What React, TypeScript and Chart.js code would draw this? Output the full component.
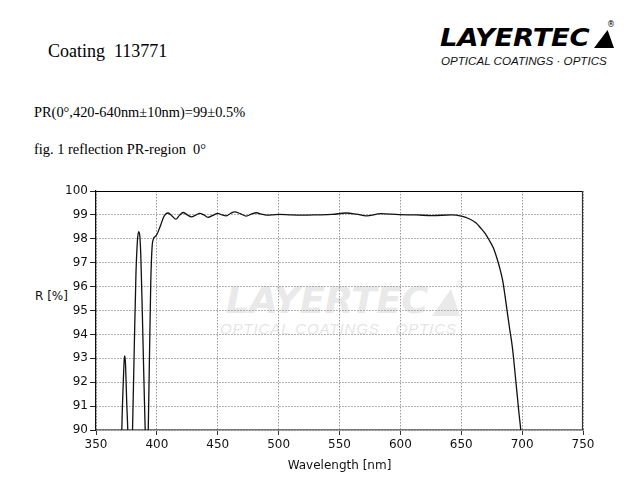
import React, { useEffect, useRef } from "react";
import { Chart, registerables } from "chart.js";

Chart.register(...registerables);

// ---- data ----
const wavelengthNm = [
  370, 371.2, 372.4, 373.2, 373.7, 374.3, 375.2, 376.1, 377.0, 378.5,
  380.0, 381.5, 382.8, 384.0, 385.0, 385.8, 386.8, 388.0, 389.3, 390.4,
  391.6, 392.9, 394.0, 395.0, 396.0, 397.2, 398.8, 400.2, 401.8, 403.3,
  405.5, 407.5, 409.3, 412.5, 415.6, 418.5, 421.6, 425.0, 428.4, 431.8,
  435.2, 438.6, 442.0, 446.0, 450.0, 453.5, 457.0, 460.5, 464.0, 468.5,
  473.5, 477.5, 481.7, 486.0, 490.0, 500.0, 510.0, 520.0, 531.0, 544.0,
  555.5, 564.0, 572.0, 584.0, 599.0, 613.0, 626.0, 642.0, 650.0, 656.0,
  662.0, 666.0, 670.0, 673.0, 676.5, 679.8, 682.0, 684.0, 686.0, 688.0,
  690.0, 692.0, 694.8, 697.5, 698.9, 700.5,
];
const reflectancePct = [
  86, 90, 92, 92.95, 93.1, 92.7, 91.2, 90, 88, 87,
  90, 93.6, 96.5, 97.9, 98.3, 98.2, 97.3, 95.0, 92.2, 90,
  87.5, 90, 93.3, 96.2, 97.6, 98.0, 98.1, 98.2, 98.4, 98.6,
  98.9, 99.05, 99.08, 98.95, 98.82, 98.98, 99.1, 99.0, 98.92, 98.99,
  99.06, 99.0, 98.9, 98.98, 99.06, 99.0, 98.96, 99.06, 99.13, 99.05,
  98.95, 99.03, 99.09, 99.03, 98.99, 99.02, 99.0, 98.99, 99.0, 99.02,
  99.08, 99.03, 98.96, 99.05, 99.01, 99.0, 98.97, 99.0, 98.95, 98.85,
  98.67, 98.45, 98.2, 97.94, 97.6, 97.1, 96.7, 96.26, 95.6, 94.86,
  94.15, 93.46, 92.06, 90.66, 90, 89,
];
const xTickValues = [350, 400, 450, 500, 550, 600, 650, 700, 750];
const yTickValues = [90, 91, 92, 93, 94, 95, 96, 97, 98, 99, 100];

const headerTitle = "Coating  113771";
const specLine = "PR(0°,420-640nm±10nm)=99±0.5%";
const figLine = "fig. 1 reflection PR-region  0°";
const xAxisTitle = "Wavelength [nm]";
const yAxisTitle = "R [%]";
const brandName = "LAYERTEC";
const brandSub = "OPTICAL COATINGS · OPTICS";

const framePlugin = {
  id: "frame",
  afterDraw(chart: any) {
    const { ctx, chartArea } = chart;
    const { left, right, top, bottom } = chartArea;
    ctx.save();
    ctx.lineWidth = 1.2;
    ctx.strokeStyle = "#000";
    ctx.beginPath();
    ctx.moveTo(left, top + 0.5);
    ctx.lineTo(right, top + 0.5);
    ctx.stroke();
    ctx.strokeStyle = "#333";
    ctx.beginPath();
    ctx.moveTo(right - 0.5, top);
    ctx.lineTo(right - 0.5, bottom);
    ctx.stroke();
    ctx.restore();
  },
};

function Logo(p: any) {
  const capTopOffset = p.size * 0.2; // approx gap between line box top and cap top (lineHeight 1)
  return (
    <>
      <div
        style={{
          position: "absolute",
          left: p.x,
          top: p.capTop - capTopOffset,
          fontFamily: "'DejaVu Sans', sans-serif",
          fontWeight: 900,
          fontStyle: "italic",
          fontSize: p.size,
          lineHeight: 1,
          color: p.color,
          letterSpacing: -0.3,
          whiteSpace: "nowrap",
          transform: `scaleX(${p.sx})`,
          transformOrigin: "left top",
        }}
      >
        {brandName}
      </div>
      <div
        style={{
          position: "absolute",
          left: p.triX,
          top: p.capTop,
          width: p.triW,
          height: p.capH,
          background: p.color,
          clipPath: "polygon(0% 100%, 68% 0%, 100% 100%)",
        }}
      />
      <div
        style={{
          position: "absolute",
          left: p.regX,
          top: p.regY,
          fontFamily: "'DejaVu Sans', sans-serif",
          fontSize: p.regSize,
          lineHeight: 1,
          color: p.color,
        }}
      >
        ®
      </div>
      <div
        style={{
          position: "absolute",
          left: p.subX,
          top: p.subY,
          fontFamily: "'Liberation Sans', sans-serif",
          fontStyle: "italic",
          fontSize: p.subSize,
          lineHeight: 1,
          color: p.subColor,
          letterSpacing: p.subSpacing,
          whiteSpace: "nowrap",
        }}
      >
        {brandSub}
      </div>
    </>
  );
}

export default function App() {
  const canvasRef = useRef<HTMLCanvasElement | null>(null);

  useEffect(() => {
    const canvas = canvasRef.current;
    if (!canvas) return;
    const points = wavelengthNm.map((x, i) => ({ x, y: reflectancePct[i] }));
    const chart = new Chart(canvas, {
      type: "line",
      data: {
        datasets: [
          {
            data: points,
            borderColor: "#111",
            borderWidth: 1.3,
            pointRadius: 0,
            fill: false,
            cubicInterpolationMode: "monotone",
          },
        ],
      },
      options: {
        responsive: false,
        animation: false,
        layout: { padding: { top: 16, right: 54, left: 0, bottom: 0 } },
        plugins: { legend: { display: false }, tooltip: { enabled: false } },
        scales: {
          x: {
            type: "linear",
            min: 350,
            max: 750,
            afterBuildTicks: (scale: any) => {
              scale.ticks = xTickValues.map((v) => ({ value: v }));
            },
            afterFit: (scale: any) => {
              scale.height = 70;
            },
            ticks: {
              autoSkip: false,
              maxRotation: 0,
              padding: 3,
              color: "#111",
              font: { family: "'DejaVu Sans', sans-serif", size: 12 },
              callback: (v: any) => String(v),
            },
            grid: {
              color: "#9a9a9a",
              lineWidth: 1,
              tickLength: 5,
              tickColor: "#333",
              tickBorderDash: [],
            },
            border: { display: true, color: "#777", width: 1.6, dash: [1.5, 1.5] },
            title: {
              display: true,
              text: xAxisTitle,
              color: "#111",
              font: { family: "'DejaVu Sans', sans-serif", size: 12 },
              padding: { top: 0, bottom: 27 },
            },
          },
          y: {
            type: "linear",
            min: 90,
            max: 100,
            afterBuildTicks: (scale: any) => {
              scale.ticks = yTickValues.map((v) => ({ value: v }));
            },
            afterFit: (scale: any) => {
              scale.width = 96;
            },
            ticks: {
              padding: 2,
              color: "#111",
              font: { family: "'DejaVu Sans', sans-serif", size: 12 },
              callback: (v: any) => String(v),
            },
            grid: {
              color: "#9a9a9a",
              lineWidth: 1,
              tickLength: 6,
              tickColor: "#222",
              tickBorderDash: [],
            },
            border: { display: true, color: "#111", width: 1.2, dash: [1.5, 1.5] },
          },
        },
      },
      plugins: [framePlugin],
    } as any);
    return () => chart.destroy();
  }, []);

  const serif = "'Liberation Serif', 'Times New Roman', serif";

  return (
    <div
      style={{
        position: "absolute",
        left: 0,
        top: 0,
        width: 637,
        height: 500,
        background: "#fff",
        overflow: "hidden",
      }}
    >
      <div
        style={{
          position: "absolute",
          left: 48,
          top: 42,
          fontFamily: serif,
          fontSize: 18,
          lineHeight: 1,
          whiteSpace: "pre",
          color: "#000",
        }}
      >
        {headerTitle}
      </div>
      <div
        style={{
          position: "absolute",
          left: 34,
          top: 105,
          fontFamily: serif,
          fontSize: 14.4,
          lineHeight: 1,
          whiteSpace: "pre",
          color: "#000",
        }}
      >
        {specLine}
      </div>
      <div
        style={{
          position: "absolute",
          left: 34,
          top: 142,
          fontFamily: serif,
          fontSize: 14.4,
          lineHeight: 1,
          whiteSpace: "pre",
          color: "#000",
        }}
      >
        {figLine}
      </div>

      {/* header logo */}
      <Logo
        x={440}
        capTop={30}
        capH={18}
        size={25}
        sx={1.1}
        color="#000"
        triX={594}
        triW={20}
        regX={607}
        regY={21}
        regSize={8}
        subX={441}
        subY={55}
        subSize={11.6}
        subSpacing={0}
        subColor="#111"
      />

      {/* watermark behind the chart */}
      <Logo
        x={226}
        capTop={289}
        capH={27}
        size={37}
        sx={1.0}
        color="#e9e9e9"
        triX={432}
        triW={28}
        regX={455}
        regY={280}
        regSize={10}
        subX={220}
        subY={321}
        subSize={15}
        subSpacing={0.9}
        subColor="#e6e6e6"
      />

      <div
        style={{
          position: "absolute",
          left: 35,
          top: 290,
          fontFamily: "'DejaVu Sans', sans-serif",
          fontSize: 12,
          lineHeight: 1,
          whiteSpace: "pre",
          color: "#111",
        }}
      >
        {yAxisTitle}
      </div>

      <canvas
        ref={canvasRef}
        width={637}
        height={325}
        style={{ position: "absolute", left: 0, top: 175, width: 637, height: 325 }}
      />
    </div>
  );
}
